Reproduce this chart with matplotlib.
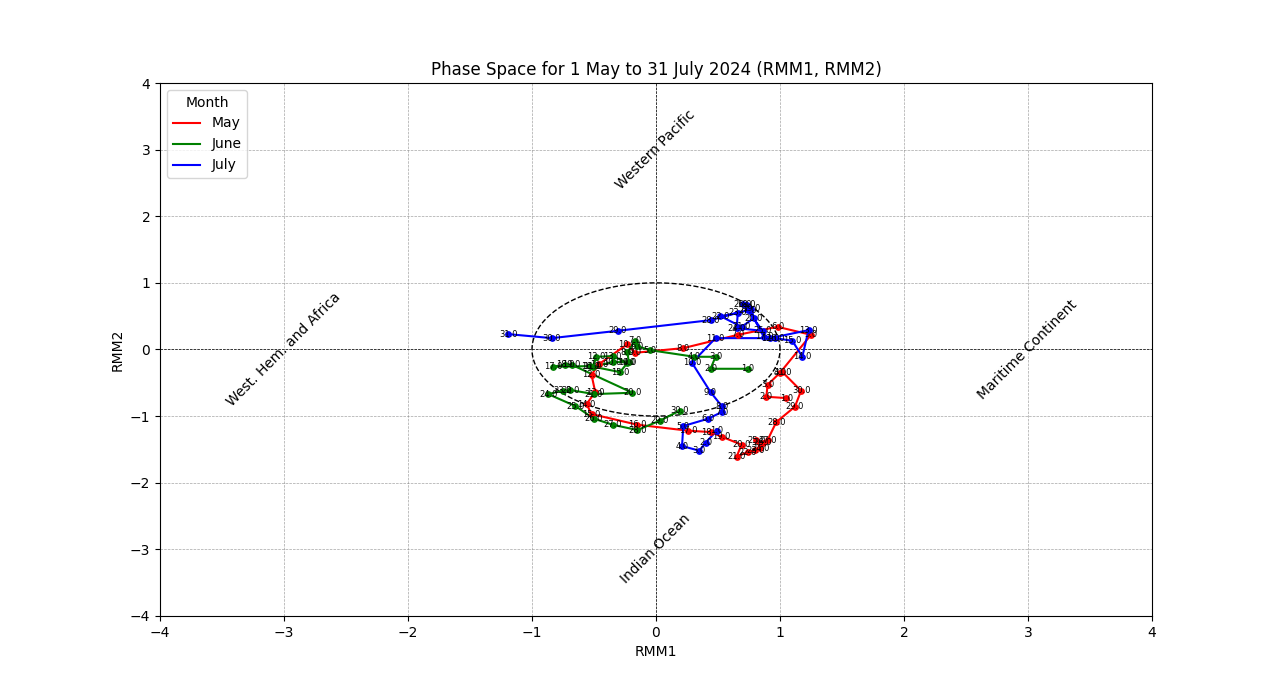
import matplotlib
matplotlib.use('Agg')
import matplotlib.pyplot as plt
import numpy as np

# RMM1 / RMM2 daily values
may_rmm1 = [1.05, 0.89, 0.90, 1.00, 1.25, 0.98, 0.66, 0.22, -0.17, -0.23,
            -0.46, -0.52, -0.49, -0.56, -0.52, -0.15, 0.26, 0.44, 0.53, 0.69,
            0.65, 0.74, 0.80, 0.84, 0.81, 0.86, 0.90, 0.97, 1.12, 1.17, 1.02]
may_rmm2 = [-0.73, -0.71, -0.53, -0.35, 0.22, 0.34, 0.22, 0.02, -0.05, 0.08,
            -0.22, -0.38, -0.64, -0.82, -0.97, -1.13, -1.22, -1.24, -1.31, -1.43,
            -1.61, -1.54, -1.51, -1.48, -1.36, -1.40, -1.36, -1.09, -0.86, -0.62, -0.34]

june_rmm1 = [0.74, 0.44, 0.48, 0.31, -0.05, -0.15, -0.17, -0.23, -0.22, -0.35,
             -0.51, -0.48, -0.35, -0.23, -0.29, -0.53, -0.83, -0.73, -0.68, -0.19,
             -0.50, -0.69, -0.75, -0.87, -0.65, -0.50, -0.35, -0.15, 0.03, 0.19]
june_rmm2 = [-0.29, -0.29, -0.11, -0.11, -0.01, 0.05, 0.13, -0.04, -0.19, -0.19,
             -0.26, -0.11, -0.10, -0.20, -0.34, -0.25, -0.26, -0.23, -0.23, -0.65,
             -0.67, -0.61, -0.62, -0.67, -0.85, -1.04, -1.13, -1.21, -1.07, -0.92]

july_rmm1 = [0.49, 0.40, 0.35, 0.21, 0.22, 0.42, 0.53, 0.53, 0.44, 0.29,
             0.48, 0.92, 1.23, 1.18, 1.10, 0.96, 0.87, 0.73, 0.77, 0.79,
             0.69, 0.52, 0.66, 0.65, 0.86, 0.70, 0.74, 0.44, -0.31, -0.84, -1.19]
july_rmm2 = [-1.22, -1.40, -1.52, -1.45, -1.15, -1.04, -0.94, -0.85, -0.64, -0.20,
             0.17, 0.17, 0.29, -0.11, 0.13, 0.17, 0.19, 0.67, 0.61, 0.47,
             0.34, 0.50, 0.55, 0.32, 0.28, 0.68, 0.59, 0.44, 0.28, 0.17, 0.23]

months = ['May', 'June', 'July']
colors = ['red', 'green', 'blue']
phase_names = ['Western Pacific', 'Maritime Continent', 'Indian Ocean', 'West. Hem. and Africa']
phase_x = [0, 3, 0, -3]
phase_y = [3, 0, -3, 0]

fig = plt.figure(figsize=(12.8, 6.92), dpi=100)
ax = fig.add_subplot(111)

ax.grid(True, color='gray', linestyle='--', linewidth=0.5, alpha=0.7)
ax.axhline(0, color='black', linestyle='--', linewidth=0.5)
ax.axvline(0, color='black', linestyle='--', linewidth=0.5)

theta = np.linspace(0, 2 * np.pi, 200)
ax.plot(np.cos(theta), np.sin(theta), color='black', linestyle='--', linewidth=1)

data = [(may_rmm1, may_rmm2), (june_rmm1, june_rmm2), (july_rmm1, july_rmm2)]
for (x, y), month, c in zip(data, months, colors):
    ax.plot(x, y, color=c, linewidth=1.5, label=month)
    ax.scatter(x, y, color=c, s=15, zorder=3)
    for i in range(len(x)):
        day = float(i + 1)
        ax.text(x[i], y[i], str(day), fontsize=6, ha='center', va='center')

for name, px, py in zip(phase_names, phase_x, phase_y):
    ax.text(px, py, name, fontsize=10, rotation=45, ha='center', va='center')

ax.set_xlim(-4, 4)
ax.set_ylim(-4, 4)
ax.set_xlabel('RMM1')
ax.set_ylabel('RMM2')
ax.set_title('Phase Space for 1 May to 31 July 2024 (RMM1, RMM2)')
ax.legend(title='Month', loc='upper left')

fig.savefig('out.png')
